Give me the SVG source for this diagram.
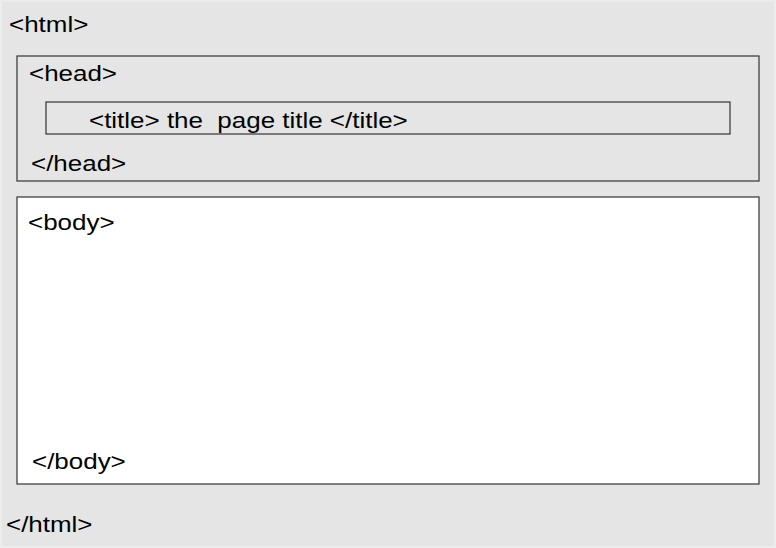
<svg xmlns="http://www.w3.org/2000/svg" width="776" height="548" viewBox="0 0 776 548">
<style>
text{font-family:"Liberation Sans",Arial,sans-serif;font-size:22px;fill:#000;white-space:pre}
.box{stroke:#333;stroke-width:1.2}
</style>
<rect x="0" y="0" width="776" height="548" fill="#ececec"/>
<rect x="2" y="2" width="772" height="544" fill="#e5e5e5"/>
<g id="html">
<text transform="translate(9,32) scale(1.18,1)">&lt;html&gt;</text>
<text transform="translate(6,532) scale(1.18,1)">&lt;/html&gt;</text>
</g>
<g id="head">
<rect class="box" x="17" y="56" width="742" height="125" fill="#e5e5e5"/>
<text transform="translate(29,81) scale(1.18,1)">&lt;head&gt;</text>
<text transform="translate(31,171) scale(1.18,1)">&lt;/head&gt;</text>
</g>
<g id="title">
<rect class="box" x="46" y="102" width="684" height="32" fill="#e5e5e5"/>
<text xml:space="preserve" transform="translate(89,128) scale(1.18,1)">&lt;title&gt; the  page title &lt;/title&gt;</text>
</g>
<g id="body">
<rect class="box" x="17" y="197" width="742" height="287" fill="#ffffff"/>
<text transform="translate(28,230) scale(1.18,1)">&lt;body&gt;</text>
<text transform="translate(32,469) scale(1.18,1)">&lt;/body&gt;</text>
</g>
<g id="connectors"/>
</svg>
